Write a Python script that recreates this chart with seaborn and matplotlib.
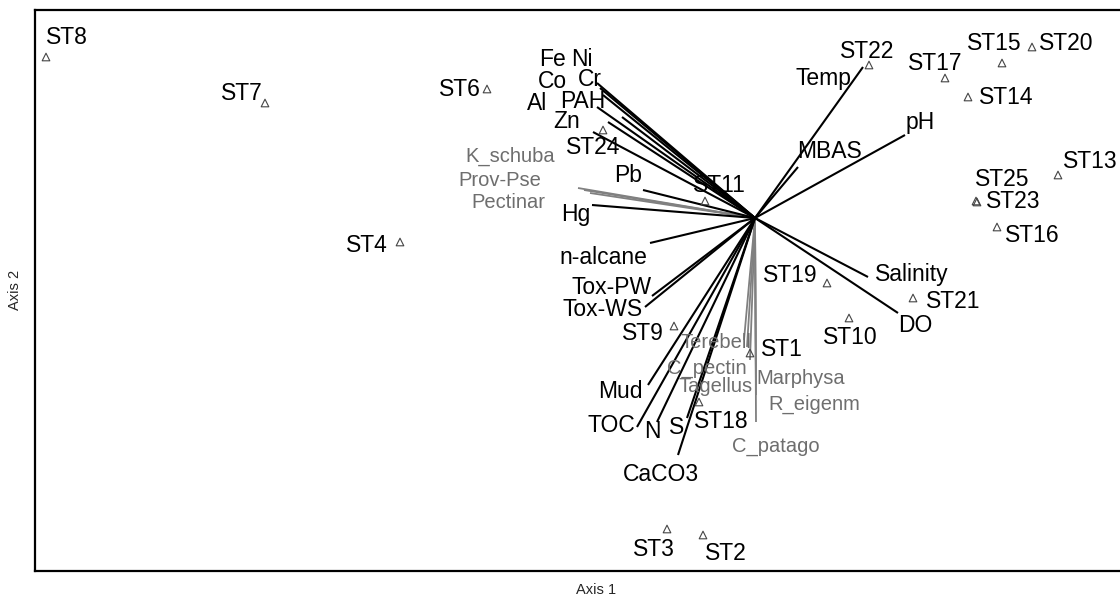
import matplotlib
matplotlib.use("Agg")
import matplotlib.pyplot as plt
import seaborn as sns
import pandas as pd

# ---- Site scores (Axis 1, Axis 2) ----
sites = ["ST1", "ST2", "ST3", "ST4", "ST6", "ST7", "ST8", "ST9", "ST10", "ST11",
         "ST13", "ST14", "ST15", "ST16", "ST17", "ST18", "ST19", "ST20", "ST21",
         "ST22", "ST23", "ST24", "ST25"]
site_ax1 = [-0.05, -0.52, -0.88, -3.55, -2.68, -4.90, -7.09, -0.81, 0.94, -0.50,
            3.03, 2.13, 2.47, 2.42, 1.90, -0.56, 0.72, 2.77, 1.58,
            1.14, 2.22, -1.52, 2.21]
site_ax2 = [-1.35, -3.17, -3.11, -0.24, 1.29, 1.15, 1.61, -1.08, -1.00, 0.17,
            0.43, 1.21, 1.55, -0.09, 1.40, -1.84, -0.65, 1.71, -0.80,
            1.53, 0.16, 0.88, 0.17]

# ---- Environmental variable biplot scores ----
env_vars = ["Temp", "MBAS", "pH", "Salinity", "DO", "Fe", "Ni", "Co", "Cr", "Al",
            "PAH", "Zn", "Pb", "Hg", "n-alcane", "Tox-PW", "Tox-WS", "Mud", "TOC",
            "N", "S", "CaCO3"]
env_ax1 = [1.08, 0.43, 1.50, 1.13, 1.43, -1.52, -1.58, -1.33, -1.55, -1.47,
           -1.58, -1.62, -1.12, -1.63, -1.05, -1.03, -1.10, -1.07, -1.18,
           -0.98, -0.68, -0.77]
env_ax2 = [1.51, 0.51, 0.83, -0.59, -0.95, 1.23, 1.35, 1.01, 1.30, 0.96,
           1.11, 0.86, 0.28, 0.13, -0.25, -0.78, -0.89, -1.67, -2.09,
           -2.04, -2.00, -2.37]

# ---- Species scores ----
species = ["K_schuba", "Prov-Pse", "Pectinar", "Terebell", "C_pectin", "Tagellus",
           "Marphysa", "R_eigenm", "C_patago"]
sp_ax1 = [-1.77, -1.71, -1.65, -0.08, -0.11, -0.05, 0.01, 0.01, 0.01]
sp_ax2 = [0.30, 0.28, 0.25, -1.29, -1.22, -1.42, -1.67, -1.77, -2.04]

# label offsets (pixels) from each point / arrow tip
site_offsets = {
    "ST1": (32, 3), "ST2": (23, -18), "ST3": (-13, -21), "ST4": (-33, -3),
    "ST6": (-27, -1), "ST7": (-23, 10), "ST8": (21, 19), "ST9": (-31, -7),
    "ST10": (1, -20), "ST11": (14, 15), "ST13": (32, 13), "ST14": (38, 0),
    "ST15": (-8, 19), "ST16": (35, -9), "ST17": (-10, 15), "ST18": (22, -20),
    "ST19": (-37, 8), "ST20": (34, 3), "ST21": (40, -4), "ST22": (-2, 14),
    "ST23": (36, 0), "ST24": (-10, -18), "ST25": (26, 22),
}
env_offsets = {
    "Temp": (-39, -11), "MBAS": (32, 15), "pH": (15, 13), "Salinity": (44, 3),
    "DO": (17, -12), "Fe": (-50, 35), "Ni": (-15, 23), "Co": (-70, 35),
    "Cr": (-10, 8), "Al": (-71, 19), "PAH": (-14, 6), "Zn": (-26, 11),
    "Pb": (-15, 14), "Hg": (-16, -10), "n-alcane": (-47, -14),
    "Tox-PW": (-40, 9), "Tox-WS": (-42, -3), "Mud": (-28, -6), "TOC": (-26, 1),
    "N": (-5, -10), "S": (-10, -10), "CaCO3": (-17, -19),
}
sp_offsets = {
    "K_schuba": (-68, 32), "Prov-Pse": (-84, 10), "Pectinar": (-82, -10),
    "Terebell": (-31, 4), "C_pectin": (-37, -28), "Tagellus": (-34, -27),
    "Marphysa": (45, 7), "R_eigenm": (58, -9), "C_patago": (20, -24),
}

sns.set_style("white")
plt.rcParams["font.family"] = ["Liberation Sans", "DejaVu Sans"]

fig = plt.figure(figsize=(11.2, 5.98), dpi=100)
ax = fig.add_axes([35 / 1120, 27 / 598, 1090 / 1120, 561 / 598])
ax.set_xlim(-7.20, 3.70)
ax.set_ylim(-3.53, 2.08)

# species vectors (grey)
sp_grey = "#808080"
for name, x, y in zip(species, sp_ax1, sp_ax2):
    ax.plot([0, x], [0, y], color=sp_grey, lw=1.3, solid_capstyle="butt", zorder=2)
    dx, dy = sp_offsets[name]
    ax.annotate(name, (x, y), xytext=(dx, dy), textcoords="offset pixels",
                ha="center", va="center", fontsize=14.5, color="#6e6e6e", zorder=4)

# environmental vectors (black)
for name, x, y in zip(env_vars, env_ax1, env_ax2):
    ax.plot([0, x], [0, y], color="black", lw=1.5, solid_capstyle="butt", zorder=3)
    dx, dy = env_offsets[name]
    ax.annotate(name, (x, y), xytext=(dx, dy), textcoords="offset pixels",
                ha="center", va="center", fontsize=16.5, color="black", zorder=5)

# sites
df_sites = pd.DataFrame({"site": sites, "Axis 1": site_ax1, "Axis 2": site_ax2})
sns.scatterplot(data=df_sites, x="Axis 1", y="Axis 2", marker="^", s=30,
                ax=ax, zorder=6, legend=False)
coll = ax.collections[-1]
coll.set_facecolor("none")
coll.set_edgecolor("#444444")
coll.set_linewidth(0.8)
for name, x, y in zip(sites, site_ax1, site_ax2):
    dx, dy = site_offsets[name]
    ax.annotate(name, (x, y), xytext=(dx, dy), textcoords="offset pixels",
                ha="center", va="center", fontsize=16.5, color="black", zorder=7)

ax.set_xticks([])
ax.set_yticks([])
ax.set_xlabel("")
ax.set_ylabel("")
for sp in ax.spines.values():
    sp.set_color("black")
    sp.set_linewidth(1.6)

fig.text(596 / 1120, 1 - 590 / 598, "Axis 1", ha="center", va="center", fontsize=10.5)
fig.text(15 / 1120, 1 - 290 / 598, "Axis 2", ha="center", va="center",
         rotation=90, fontsize=10.5)

fig.savefig("out.png", dpi=100)
